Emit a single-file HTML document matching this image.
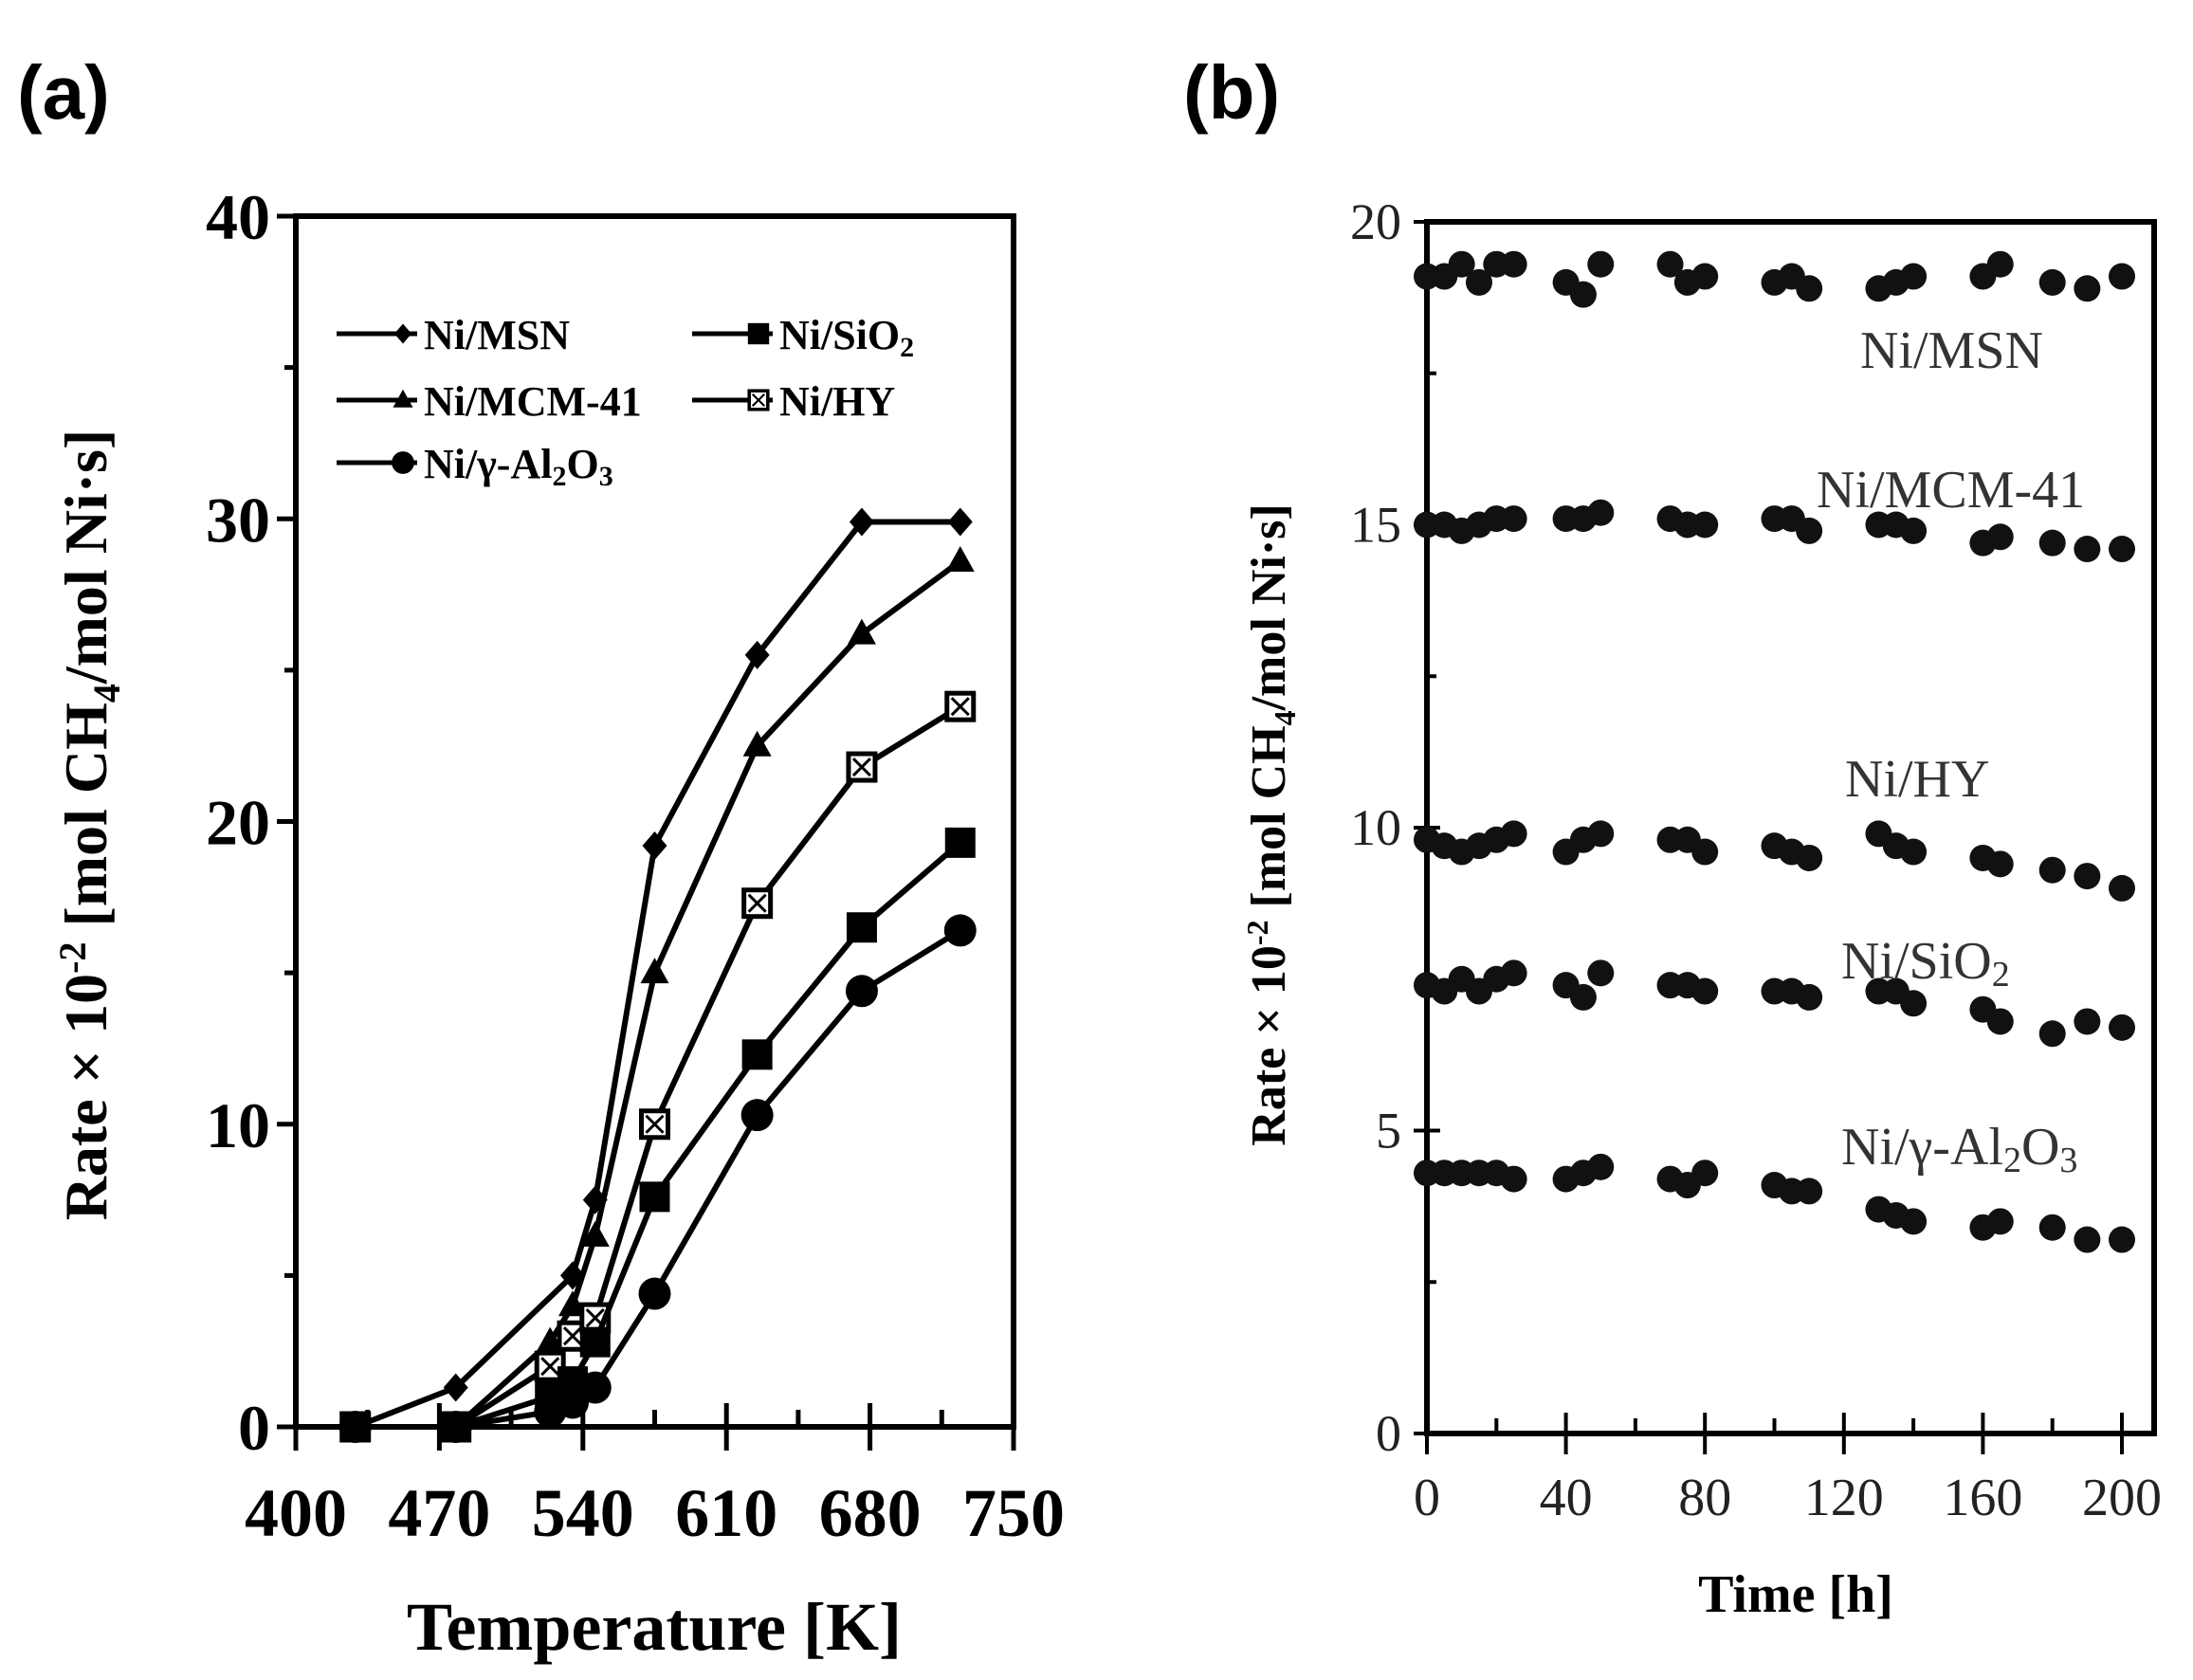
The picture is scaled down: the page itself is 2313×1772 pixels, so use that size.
<!DOCTYPE html>
<html><head><meta charset="utf-8"><style>
html,body{margin:0;padding:0;background:#fff;}
svg{display:block;}
</style></head><body>
<svg id="s" xmlns="http://www.w3.org/2000/svg" width="2313" height="1772" viewBox="0 0 2313 1772">
<rect width="2313" height="1772" fill="#fff"/>
<text x="18" y="125" font-family="Liberation Sans, sans-serif" font-weight="bold" font-size="80">(a)</text>
<text x="1248" y="125" font-family="Liberation Sans, sans-serif" font-weight="bold" font-size="80">(b)</text>
<g id="a"></g><g id="b"></g>
<text transform="translate(112,870) rotate(-90)" text-anchor="middle" font-family="Liberation Serif, serif" font-weight="bold" font-size="64">Rate × 10<tspan dy="-22" font-size="40">-2</tspan><tspan dy="22"> [mol CH</tspan><tspan dy="14" font-size="40">4</tspan><tspan dy="-14">/mol Ni·s]</tspan></text>
<text x="690" y="1740" text-anchor="middle" font-family="Liberation Serif, serif" font-weight="bold" font-size="72">Temperature [K]</text>
<text transform="translate(1355,870) rotate(-90)" text-anchor="middle" font-family="Liberation Serif, serif" font-weight="bold" font-size="52">Rate × 10<tspan dy="-18" font-size="32">-2</tspan><tspan dy="18"> [mol CH</tspan><tspan dy="11" font-size="32">4</tspan><tspan dy="-11">/mol Ni·s]</tspan></text>
<text x="1894" y="1700" text-anchor="middle" font-family="Liberation Serif, serif" font-weight="bold" font-size="56">Time [h]</text>
</svg>
<script>
const NS="http://www.w3.org/2000/svg";
function el(p,t,a,txt){const e=document.createElementNS(NS,t);for(const k in a)e.setAttribute(k,a[k]);if(txt!==undefined)e.innerHTML=txt;p.appendChild(e);return e;}
const A=document.getElementById('a');
const ax=T=>312+(T-400)*757/350, ay=v=>1505-v*(1505-228)/40;
el(A,'rect',{x:312,y:228,width:757,height:1277,fill:'none',stroke:'#000','stroke-width':6});
for(let v=0;v<=40;v+=5){const y=ay(v);const L=v%10==0?20:12;el(A,'line',{x1:312-L,x2:312,y1:y,y2:y,stroke:'#000','stroke-width':5});
 if(v%10==0)el(A,'text',{x:285,y:y+24,'text-anchor':'end','font-family':'Liberation Serif, serif','font-weight':'bold','font-size':'68'},v);}
for(let T=400;T<=750;T+=35){const x=ax(T);const maj=(T-400)%70==0;el(A,'line',{x1:x,x2:x,y1:1505-(maj?25:18),y2:1505+(maj?25:0),stroke:'#000','stroke-width':5});
 if(maj)el(A,'text',{x:x,y:1620,'text-anchor':'middle','font-family':'Liberation Serif, serif','font-weight':'bold','font-size':'72'},T);}
const S={
 msn:[[429,0],[478,1.3],[535,5],[546,7.5],[575,19.2],[625,25.5],[676,29.9],[724,29.9]],
 mcm:[[429,0],[478,0],[524,2.8],[535,4],[546,6.3],[575,15],[625,22.5],[676,26.2],[724,28.6]],
 hy:[[429,0],[478,0],[524,2],[535,3],[546,3.6],[575,10],[625,17.3],[676,21.8],[724,23.8]],
 si:[[429,0],[478,0],[524,1],[535,1.5],[546,2.8],[575,7.6],[625,12.3],[676,16.5],[724,19.3]],
 al:[[429,0],[478,0],[524,0.5],[535,0.8],[546,1.3],[575,4.4],[625,10.3],[676,14.4],[724,16.4]]};
function marker(g,k,x,y,s){
 if(k=='msn')el(g,'polygon',{points:`${x},${y-15*s} ${x+13*s},${y} ${x},${y+15*s} ${x-13*s},${y}`,fill:'#000'});
 else if(k=='mcm')el(g,'polygon',{points:`${x},${y-16*s} ${x+15*s},${y+11*s} ${x-15*s},${y+11*s}`,fill:'#000'});
 else if(k=='hy'){el(g,'rect',{x:x-14*s,y:y-14*s,width:28*s,height:28*s,fill:'#fff',stroke:'#000','stroke-width':5*s});el(g,'path',{d:`M${x-9*s} ${y-9*s}L${x+9*s} ${y+9*s}M${x+9*s} ${y-9*s}L${x-9*s} ${y+9*s}`,stroke:'#000','stroke-width':3*s});}
 else if(k=='si')el(g,'rect',{x:x-16*s,y:y-16*s,width:32*s,height:32*s,fill:'#000'});
 else el(g,'circle',{cx:x,cy:y,r:17*s,fill:'#000'});}
for(const k in S){el(A,'polyline',{points:S[k].map(p=>ax(p[0])+','+ay(p[1])).join(' '),fill:'none',stroke:'#000','stroke-width':6});
 S[k].forEach(p=>marker(A,k,ax(p[0]),ay(p[1]),1));}
const LG=[['msn','Ni/MSN',355,352],['mcm','Ni/MCM-41',355,422],['al','Ni/γ-Al<tspan font-size="30" dy="8">2</tspan><tspan dy="-8">O</tspan><tspan font-size="30" dy="8">3</tspan>',355,488],['si','Ni/SiO<tspan font-size="30" dy="8">2</tspan>',730,352],['hy','Ni/HY',730,422]];
LG.forEach(([k,t,x,y])=>{el(A,'line',{x1:x,x2:x+85,y1:y,y2:y,stroke:'#000','stroke-width':5});marker(A,k,x+70,y,0.7);
 el(A,'text',{x:x+92,y:y+16,'font-family':'Liberation Serif, serif','font-weight':'bold','font-size':'44'},t);});
const B=document.getElementById('b');
const bx=t=>1505+t*(2238-1505)/200, by=v=>1512-v*(1512-234)/20;
el(B,'rect',{x:1505,y:234,width:767,height:1278,fill:'none',stroke:'#000','stroke-width':6});
for(let v=0;v<=20;v+=2.5){const y=by(v);const maj=v%5==0;el(B,'line',{x1:1505-(maj?14:0),x2:1505+(maj?14:10),y1:y,y2:y,stroke:'#000','stroke-width':4});
 if(maj)el(B,'text',{x:1478,y:y+18,'text-anchor':'end','font-family':'Liberation Serif, serif','font-size':'54',fill:'#222'},v);}
for(let t=0;t<=200;t+=20){const x=bx(t);const maj=t%40==0;el(B,'line',{x1:x,x2:x,y1:1512-(maj?22:16),y2:1512+(maj?22:0),stroke:'#000','stroke-width':4});
 if(maj)el(B,'text',{x:x,y:1598,'text-anchor':'middle','font-family':'Liberation Serif, serif','font-size':'56',fill:'#222'},t);}
const times=[0,5,10,15,20,25,40,45,50,70,75,80,100,105,110,130,135,140,160,165,180,190,200];
const D=[
 [19.1,19.1,19.3,19.0,19.3,19.3, 19.0,18.8,19.3, 19.3,19.0,19.1, 19.0,19.1,18.9, 18.9,19.0,19.1, 19.1,19.3, 19.0,18.9,19.1],
 [15.0,15.0,14.9,15.0,15.1,15.1, 15.1,15.1,15.2, 15.1,15.0,15.0, 15.1,15.1,14.9, 15.0,15.0,14.9, 14.7,14.8, 14.7,14.6,14.6],
 [9.8,9.7,9.6,9.7,9.8,9.9, 9.6,9.8,9.9, 9.8,9.8,9.6, 9.7,9.6,9.5, 9.9,9.7,9.6, 9.5,9.4, 9.3,9.2,9.0],
 [7.4,7.3,7.5,7.3,7.5,7.6, 7.4,7.2,7.6, 7.4,7.4,7.3, 7.3,7.3,7.2, 7.3,7.3,7.1, 7.0,6.8, 6.6,6.8,6.7],
 [4.3,4.3,4.3,4.3,4.3,4.2, 4.2,4.3,4.4, 4.2,4.1,4.3, 4.1,4.0,4.0, 3.7,3.6,3.5, 3.4,3.5, 3.4,3.2,3.2]];
D.forEach(r=>r.forEach((v,i)=>el(B,'circle',{cx:bx(times[i]),cy:by(v),r:14,fill:'#111'})));
const BL=[['Ni/MSN',1962,388],['Ni/MCM-41',1916,535],['Ni/HY',1946,840],['Ni/SiO<tspan font-size="38" dy="8">2</tspan>',1942,1032],['Ni/γ-Al<tspan font-size="38" dy="8">2</tspan><tspan dy="-8">O</tspan><tspan font-size="38" dy="8">3</tspan>',1942,1228]];
BL.forEach(([t,x,y])=>el(B,'text',{x:x,y:y,'font-family':'Liberation Serif, serif','font-size':'56',fill:'#333'},t));
</script>
</body></html>
